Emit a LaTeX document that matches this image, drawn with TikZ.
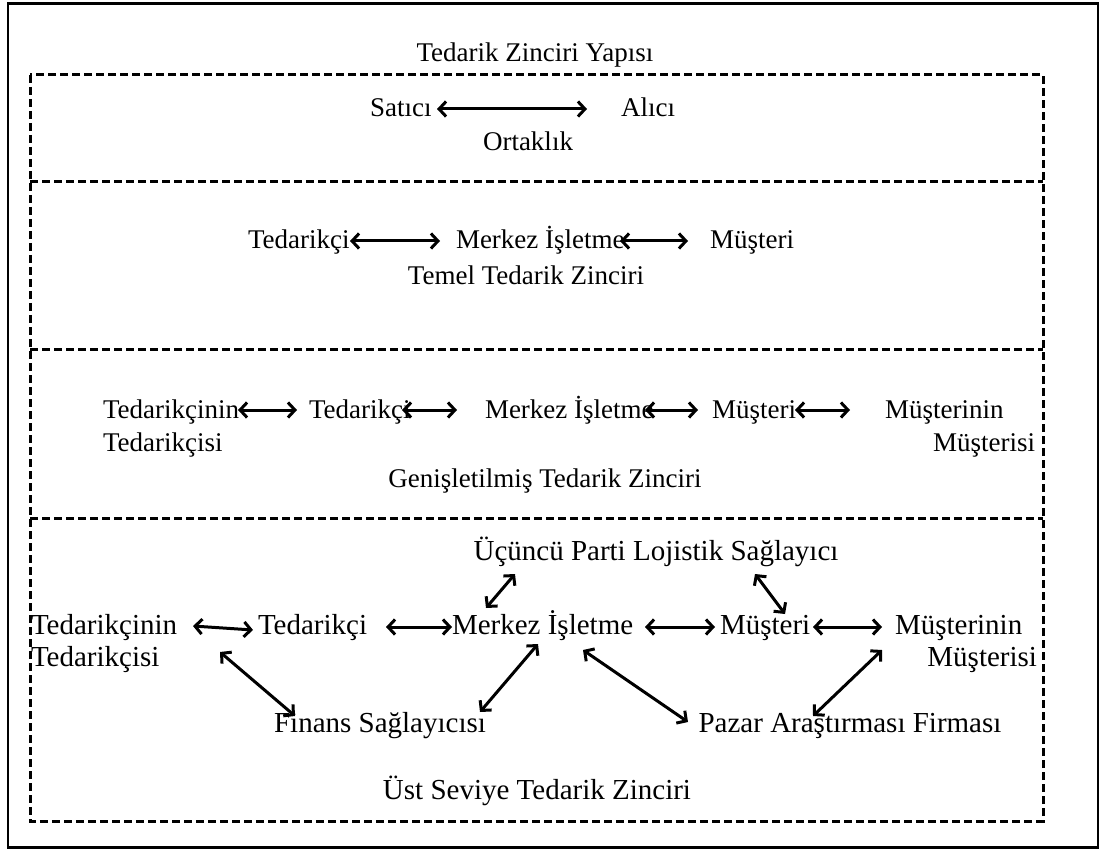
\documentclass[tikz,border=0pt]{standalone}
\usepackage{fontspec}
\setmainfont{Liberation Serif}
\usetikzlibrary{arrows.meta}
\begin{document}
\begin{tikzpicture}[x=1pt,y=-1pt,
  lbl/.style={inner sep=0pt,outer sep=0pt,font=\fontsize{27}{33}\selectfont},
  big/.style={lbl,font=\fontsize{29}{35}\selectfont},
  link/.style={line width=3pt,
    {Straight Barb[length=7pt,width=15pt]}-{Straight Barb[length=7pt,width=15pt]}},
  frame/.style={line width=2.8pt},
  band/.style={line width=3pt,dash pattern=on 8pt off 4pt}]
\useasboundingbox (0,0) rectangle (1100,850);
\fill[white] (0,0) rectangle (1100,850);

% outer frame and dashed bands
\draw[frame] (8,3.5) rectangle (1098,847.5);
\draw[band] (30,75) rectangle (1043,821);
\draw[band] (30,182) -- (1043,182);
\draw[band] (30,349) -- (1043,349);
\draw[band] (30,518) -- (1043,518);

\node[lbl,anchor=base] (title) at (535,62) {Tedarik Zinciri Yapısı};

% band 1: partnership
\node[lbl,anchor=base west] (sat) at (370,117) {Satıcı};
\node[lbl,anchor=base west] (alc) at (621,117) {Alıcı};
\node[lbl,anchor=base] (ort) at (528,151) {Ortaklık};
\draw[link] ([shift={(67,-8)}]sat.base west) -- ([shift={(-34,-8)}]alc.base west);

% band 2: basic supply chain
\node[lbl,anchor=base west] (ted2) at (248,249) {Tedarikçi};
\node[lbl,anchor=base west] (merk2) at (456,249) {Merkez İşletme};
\node[lbl,anchor=base west] (mus2) at (710,249) {Müşteri};
\node[lbl,anchor=base] (tem) at (526,285) {Temel Tedarik Zinciri};
\draw[link] ([shift={(102,-8)}]ted2.base west) -- ([shift={(-16,-8)}]merk2.base west);
\draw[link] ([shift={(164,-8)}]merk2.base west) -- ([shift={(-22,-8)}]mus2.base west);

% band 3: extended supply chain
\node[lbl,anchor=base west] (tt3) at (103,418) {Tedarikçinin};
\node[lbl,anchor=base west] (tt3b) at (103,451) {Tedarikçisi};
\node[lbl,anchor=base west] (ted3) at (309,418) {Tedarikçi};
\node[lbl,anchor=base west] (merk3) at (485,418) {Merkez İşletme};
\node[lbl,anchor=base west] (mus3) at (712,418) {Müşteri};
\node[lbl,anchor=base west] (mm3) at (885,418) {Müşterinin};
\node[lbl,anchor=base east] (mm3b) at (1035,451) {Müşterisi};
\node[lbl,anchor=base] (gen) at (545,487) {Genişletilmiş Tedarik Zinciri};
\draw[link] ([shift={(135,-8)}]tt3.base west) -- ([shift={(-12,-8)}]ted3.base west);
\draw[link] ([shift={(93,-8)}]ted3.base west) -- ([shift={(-28,-8)}]merk3.base west);
\draw[link] ([shift={(160,-8)}]merk3.base west) -- ([shift={(-14,-8)}]mus3.base west);
\draw[link] ([shift={(83,-8)}]mus3.base west) -- ([shift={(-35,-8)}]mm3.base west);

% band 4: ultimate supply chain
\node[big,anchor=base] (ucu) at (656,560) {Üçüncü Parti Lojistik Sağlayıcı};
\node[big,anchor=base west] (tt4) at (31,634) {Tedarikçinin};
\node[big,anchor=base west] (tt4b) at (31,666) {Tedarikçisi};
\node[big,anchor=base west] (ted4) at (258,634) {Tedarikçi};
\node[big,anchor=base west] (merk4) at (452,634) {Merkez İşletme};
\node[big,anchor=base west] (mus4) at (720,634) {Müşteri};
\node[big,anchor=base west] (mm4) at (895,634) {Müşterinin};
\node[big,anchor=base east] (mm4b) at (1037,666) {Müşterisi};
\node[big,anchor=base] (fin) at (380,732) {Finans Sağlayıcısı};
\node[big,anchor=base] (paz) at (850,732) {Pazar Araştırması Firması};
\node[big,anchor=base] (ust) at (537,799) {Üst Seviye Tedarik Zinciri};

\draw[link] ([shift={(162,-8)}]tt4.base west) -- ([shift={(-5,-4)}]ted4.base west);
\draw[link] ([shift={(128,-7)}]ted4.base west) -- ([shift={(0,-7)}]merk4.base west);
\draw[link] ([shift={(193,-7)}]merk4.base west) -- ([shift={(-5,-7)}]mus4.base west);
\draw[link] ([shift={(93,-7)}]mus4.base west) -- ([shift={(-13,-7)}]mm4.base west);
\draw[link] ([shift={(34,-26)}]merk4.base west) -- ([shift={(-141,14)}]ucu.base);
\draw[link] ([shift={(65,-20)}]mus4.base west) -- ([shift={(99,14)}]ucu.base);
\draw[link] ([shift={(-38,18)}]ted4.base west) -- ([shift={(-85,-16)}]fin.base);
\draw[link] ([shift={(86,10)}]merk4.base west) -- ([shift={(100,-20)}]fin.base);
\draw[link] ([shift={(131,16)}]merk4.base west) -- ([shift={(-162,-10)}]paz.base);
\draw[link] ([shift={(-13,16)}]mm4.base west) -- ([shift={(-37,-16)}]paz.base);
\end{tikzpicture}
\end{document}
